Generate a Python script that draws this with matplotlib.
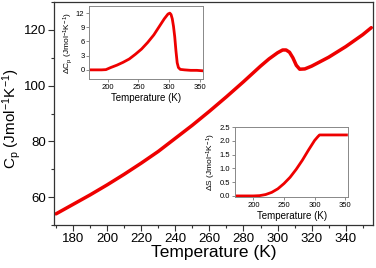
import numpy as np
import matplotlib
matplotlib.use('Agg')
import matplotlib.pyplot as plt
from matplotlib.ticker import MultipleLocator

plt.rcParams['font.family'] = ['Liberation Sans', 'DejaVu Sans']
plt.rcParams['mathtext.fontset'] = 'custom'
plt.rcParams['mathtext.rm'] = 'Liberation Sans'
plt.rcParams['mathtext.it'] = 'Liberation Sans'
plt.rcParams['mathtext.default'] = 'regular'

# 主曲线 Cp(T)
T_main = [170, 180, 190, 200, 210, 220, 230, 240, 250, 260, 270, 280, 285,
          290, 295, 300, 303, 305, 307, 309, 311, 313, 316, 320, 330, 340,
          350, 355]
cp_main = [54.0, 57.4, 60.8, 64.4, 68.2, 72.2, 76.4, 81.1, 85.8, 90.8, 96.0,
           101.4, 104.2, 107.0, 109.6, 111.8, 112.8, 112.8, 112.0, 110.0,
           107.3, 105.9, 106.0, 107.0, 110.2, 114.0, 118.3, 120.8]

# 插图1 ΔCp(T)
T_dcp = [170, 180, 190, 197, 205, 215, 225, 235, 245, 255, 265, 275, 285,
         292, 298, 301, 303, 305, 307, 309, 311, 313, 315, 318, 325, 335,
         345, 355]
dcp = [0, 0, 0, 0.05, 0.5, 1.0, 1.6, 2.3, 3.3, 4.4, 5.8, 7.4, 9.4, 10.8,
       11.8, 12.0, 11.7, 10.8, 9.2, 7.0, 4.0, 1.5, 0.5, 0.1, 0, -0.1, -0.1,
       -0.2]

# 插图2 ΔS(T)
T_ds = [170, 180, 190, 200, 210, 220, 230, 240, 250, 260, 270, 280, 290,
        300, 305, 308, 315, 330, 345, 352]
ds = [0, 0, 0, 0, 0.01, 0.05, 0.13, 0.26, 0.45, 0.68, 0.97, 1.3, 1.67,
      2.02, 2.15, 2.22, 2.22, 2.22, 2.22, 2.22]

red = '#ee0000'

fig = plt.figure(figsize=(3.76, 2.68), dpi=100)

ax = fig.add_axes([0.1444, 0.1604, 0.8476, 0.832])
ax.plot(T_main, cp_main, color=red, lw=2.5, solid_capstyle='round')
ax.set_xlim(169, 356)
ax.set_ylim(50, 130)
ax.xaxis.set_major_locator(MultipleLocator(20))
ax.xaxis.set_minor_locator(MultipleLocator(10))
ax.yaxis.set_major_locator(MultipleLocator(20))
ax.yaxis.set_minor_locator(MultipleLocator(10))
ax.tick_params(which='both', direction='out', labelsize=9.5, width=0.8,
               color='#333333', pad=2)
ax.tick_params(which='major', length=4)
ax.tick_params(which='minor', length=2.5)
ax.set_xlabel('Temperature (K)', fontsize=12.5, labelpad=0)
ax.set_ylabel('C$_p$ (Jmol$^{-1}$K$^{-1}$)', fontsize=11)
ax.yaxis.set_label_coords(-0.098, 0.475)
for s in ax.spines.values():
    s.set_color('#333333')
    s.set_linewidth(0.9)

# 插图1
ax1 = fig.add_axes([0.2375, 0.704, 0.3024, 0.2735])
ax1.plot(T_dcp, dcp, color=red, lw=2.0)
ax1.set_xlim(170, 355)
ax1.set_ylim(-2, 13.5)
ax1.xaxis.set_major_locator(MultipleLocator(50))
ax1.yaxis.set_major_locator(MultipleLocator(3))
ax1.set_xlabel('Temperature (K)', fontsize=7, labelpad=1)
ax1.set_ylabel('ΔC$_p$ (Jmol$^{-1}$K$^{-1}$)', fontsize=6, labelpad=1)

# 插图2
ax2 = fig.add_axes([0.625, 0.2638, 0.3013, 0.2634])
ax2.plot(T_ds, ds, color=red, lw=2.0)
ax2.set_xlim(170, 355)
ax2.set_ylim(-0.05, 2.52)
ax2.xaxis.set_major_locator(MultipleLocator(50))
ax2.yaxis.set_major_locator(MultipleLocator(0.5))
ax2.set_xlabel('Temperature (K)', fontsize=7, labelpad=1)
ax2.set_ylabel('ΔS (Jmol$^{-1}$K$^{-1}$)', fontsize=6, labelpad=1)

for a in (ax1, ax2):
    a.tick_params(direction='out', labelsize=5.5, length=2, width=0.6,
                  color='#777777', pad=1.5)
    for s in a.spines.values():
        s.set_color('#888888')
        s.set_linewidth(0.7)

fig.savefig('out.png', dpi=100)
